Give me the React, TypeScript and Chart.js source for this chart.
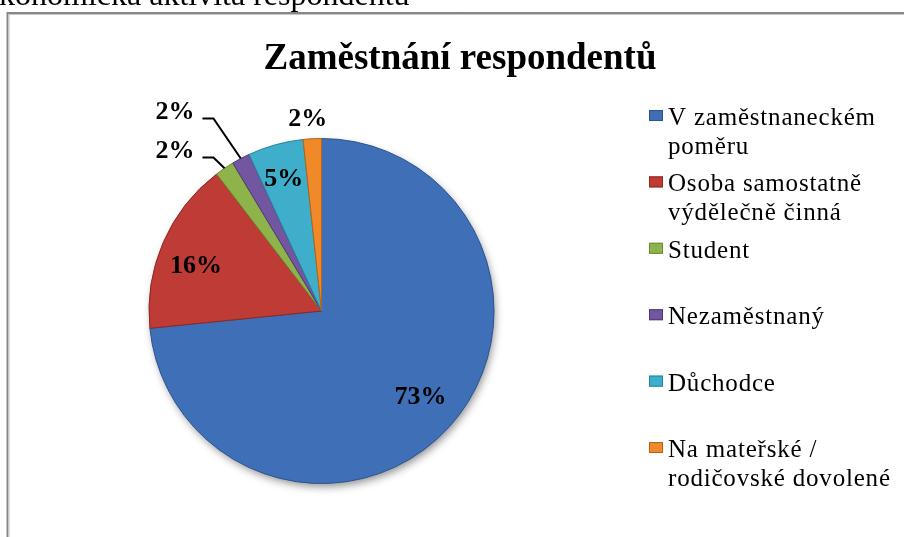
import React, { useEffect, useRef } from "react";
import { Chart, registerables } from "chart.js";

Chart.register(...registerables);

// ---- data ----
const categories = [
  "V zaměstnaneckém\npoměru",
  "Osoba samostatně\nvýdělečně činná",
  "Student",
  "Nezaměstnaný",
  "Důchodce",
  "Na mateřské /\nrodičovské dovolené",
];
const shares = [73.4, 16.2, 1.8, 1.7, 5.2, 1.7];
const percentLabels = ["73%", "16%", "2%", "2%", "5%", "2%"];
const titleText = "Zaměstnání respondentů";
const headingText = "Ekonomická aktivita respondentů";

// ---- styles ----
const fillColors = ["#3f6fb6", "#be3b36", "#8fb34b", "#7356a0", "#3eaecb", "#f08a28"];
const edgeColors = ["#2b5390", "#8e2824", "#6a8a32", "#52397a", "#2a8199", "#b7641a"];
// label placement: radius factor, angle offset (deg) from slice middle, leader line
const labelPlacement = [
  { r: 0.757, da: -1.5, leader: false },
  { r: 0.775, da: -3.3, leader: false },
  { r: 1.26, da: -8.2, leader: true },
  { r: 1.435, da: -8.4, leader: true },
  { r: 0.8, da: -0.4, leader: false },
  { r: 1.118, da: -1.0, leader: false },
];
const SERIF = '"Liberation Serif", "Times New Roman", serif';

const decorPlugin = {
  id: "decor",
  beforeDraw(chart: any) {
    const ctx = chart.ctx as CanvasRenderingContext2D;
    ctx.save();
    ctx.fillStyle = "#ffffff";
    ctx.fillRect(0, 0, chart.width, chart.height);
    // heading text cut off at the top
    ctx.fillStyle = "#000";
    ctx.font = `32px ${SERIF}`;
    ctx.textBaseline = "alphabetic";
    ctx.textAlign = "left";
    const eW = ctx.measureText("E").width;
    ctx.fillText(headingText, -eW - 1, 5);
    // chart frame
    ctx.strokeStyle = "#878787";
    ctx.lineWidth = 2;
    ctx.beginPath();
    ctx.moveTo(chart.width, 13);
    ctx.lineTo(7.5, 13);
    ctx.lineTo(7.5, chart.height);
    ctx.stroke();
    ctx.strokeStyle = "#c8c8c8";
    ctx.lineWidth = 1;
    ctx.beginPath();
    ctx.moveTo(chart.width, 14.5);
    ctx.lineTo(9, 14.5);
    ctx.lineTo(9, chart.height);
    ctx.stroke();
    // title
    ctx.font = `bold 37px ${SERIF}`;
    ctx.textAlign = "center";
    ctx.fillText(titleText, 460, 69);
    ctx.restore();
  },
  beforeDatasetsDraw(chart: any) {
    const ctx = chart.ctx as CanvasRenderingContext2D;
    const arc = chart.getDatasetMeta(0).data[0];
    if (!arc) return;
    const { x, y, outerRadius } = arc.getProps(["x", "y", "outerRadius"], true);
    ctx.save();
    ctx.shadowColor = "rgba(0,0,0,0.45)";
    ctx.shadowBlur = 9;
    ctx.shadowOffsetX = 2;
    ctx.shadowOffsetY = 4;
    ctx.fillStyle = fillColors[0];
    ctx.beginPath();
    ctx.arc(x, y, outerRadius - 1, 0, Math.PI * 2);
    ctx.fill();
    ctx.restore();
  },
  afterDatasetsDraw(chart: any) {
    const ctx = chart.ctx as CanvasRenderingContext2D;
    const meta = chart.getDatasetMeta(0);
    ctx.save();
    // data labels
    ctx.font = `bold 26px ${SERIF}`;
    ctx.textAlign = "center";
    ctx.textBaseline = "middle";
    ctx.fillStyle = "#000";
    meta.data.forEach((el: any, i: number) => {
      const { x, y, startAngle, endAngle, outerRadius } = el.getProps(
        ["x", "y", "startAngle", "endAngle", "outerRadius"],
        true
      );
      const mid = (startAngle + endAngle) / 2;
      const p = labelPlacement[i];
      const a = mid + (p.da * Math.PI) / 180;
      const lx = x + Math.cos(a) * outerRadius * p.r;
      const ly = y + Math.sin(a) * outerRadius * p.r;
      ctx.fillText(percentLabels[i], lx, ly + 1);
      if (p.leader) {
        const w = ctx.measureText(percentLabels[i]).width;
        const sx = lx + w / 2 + 8;
        const sy = ly + 7;
        const ex = x + Math.cos(mid) * outerRadius;
        const ey = y + Math.sin(mid) * outerRadius;
        ctx.strokeStyle = "#000";
        ctx.lineWidth = 2;
        ctx.beginPath();
        ctx.moveTo(sx, sy);
        ctx.lineTo(sx + 11, sy);
        ctx.lineTo(ex, ey);
        ctx.stroke();
      }
    });
    // legend
    ctx.textAlign = "left";
    ctx.textBaseline = "alphabetic";
    ctx.font = `25px ${SERIF}`;
    (ctx as any).letterSpacing = "0.8px";
    categories.forEach((cat, i) => {
      const baseY = 125 + i * 66.4;
      ctx.fillStyle = fillColors[i];
      ctx.fillRect(649, baseY - 15, 14, 11);
      ctx.strokeStyle = edgeColors[i];
      ctx.lineWidth = 1;
      ctx.strokeRect(649.5, baseY - 14.5, 13, 10);
      ctx.fillStyle = "#000";
      cat.split("\n").forEach((line, j) => {
        ctx.fillText(line, 668, baseY + j * 29);
      });
    });
    (ctx as any).letterSpacing = "0px";
    ctx.restore();
  },
};

export default function App() {
  const canvasRef = useRef<HTMLCanvasElement | null>(null);
  useEffect(() => {
    const canvas = canvasRef.current;
    if (!canvas) return;
    const chart = new Chart(canvas, {
      type: "pie",
      data: {
        labels: categories.map((c) => c.replace("\n", " ")),
        datasets: [
          {
            data: shares,
            backgroundColor: fillColors,
            borderColor: edgeColors,
            borderWidth: 1,
          },
        ],
      },
      options: {
        responsive: false,
        animation: false,
        devicePixelRatio: 1,
        layout: { padding: { left: 148, right: 409, top: 138, bottom: 53 } },
        plugins: {
          legend: { display: false },
          tooltip: { enabled: false },
          title: { display: false },
        },
      },
      plugins: [decorPlugin],
    } as any);
    return () => chart.destroy();
  }, []);
  return (
    <div style={{ position: "fixed", left: 0, top: 0, width: 904, height: 537, overflow: "hidden", background: "#fff" }}>
      <canvas ref={canvasRef} width={904} height={537} style={{ display: "block", width: 904, height: 537 }} />
    </div>
  );
}
